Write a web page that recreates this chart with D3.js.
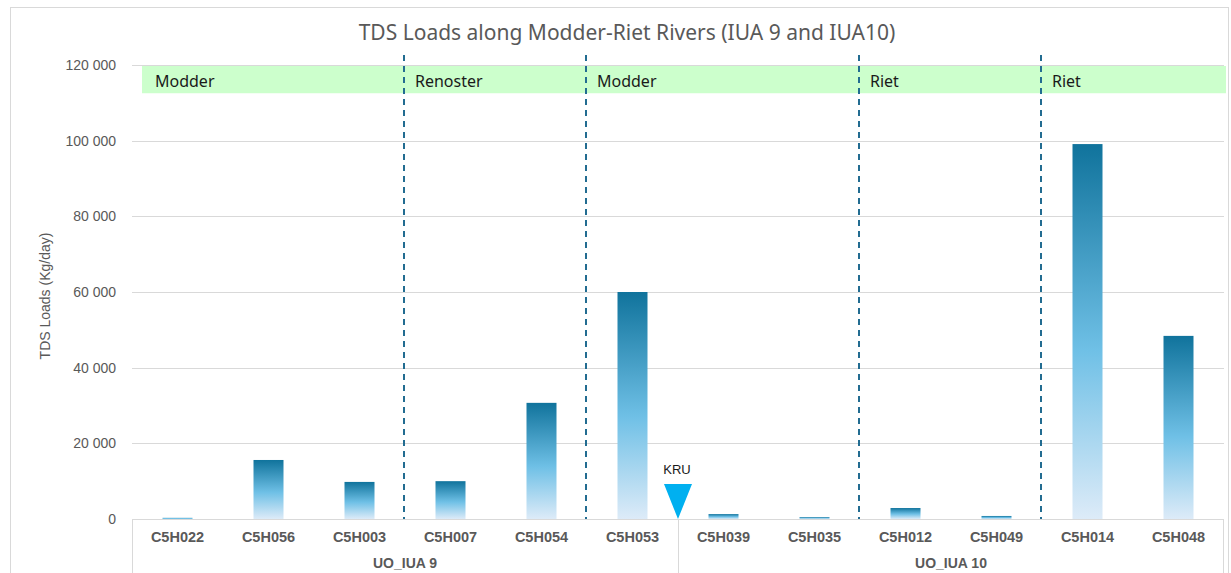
<!DOCTYPE html>
<html>
<head>
<meta charset="utf-8">
<script src="https://cdn.jsdelivr.net/npm/d3@7"></script>
<style>
  body { margin: 0; background: #fff; }
  svg { display: block; }
</style>
</head>
<body>
<svg class="chart"></svg>
<script>
// station codes along the river, grouped by IUA
let stations = ["C5H022", "C5H056", "C5H003", "C5H007", "C5H054", "C5H053",
                "C5H039", "C5H035", "C5H012", "C5H049", "C5H014", "C5H048"]
let loads = [300, 15600, 9800, 10000, 30700, 60000, 1300, 500, 2900, 800, 99100, 48400]

let groups = ["UO_IUA 9", "UO_IUA 10"]
let groupStart = ["C5H022", "C5H039"]
let groupEnd = ["C5H053", "C5H048"]

// river reaches shown in the green band
let rivers = ["Modder", "Renoster", "Modder", "Riet", "Riet"]
let riverStart = ["C5H022", "C5H007", "C5H053", "C5H012", "C5H014"]

let yTicks = [0, 20000, 40000, 60000, 80000, 100000, 120000]
let bandTop = 120000
let bandBottom = 112800

let markerLabel = "KRU"
let markerAfter = "C5H053"

let W = 1231, H = 573
let margin = { top: 65, right: 7, bottom: 54, left: 132 }
let width = W - margin.left - margin.right
let height = H - margin.top - margin.bottom

let svg = d3.select(".chart").attr("width", W).attr("height", H)

// outer chart border
svg.append("rect")
    .attr("x", 10.5).attr("y", 7.5)
    .attr("width", W - 13).attr("height", H)
    .attr("fill", "none").attr("stroke", "#d9d9d9")

svg.append("text")
    .attr("x", 627).attr("y", 40)
    .attr("text-anchor", "middle")
    .attr("font-family", "'Noto Sans', sans-serif")
    .attr("font-size", 21)
    .attr("fill", "#595959")
    .text("TDS Loads along Modder-Riet Rivers (IUA 9 and IUA10)")

let g = svg.append("g")
    .attr("transform", "translate(" + margin.left + "," + margin.top + ")")

let x = d3.scaleBand().domain(stations).range([0, width]).paddingInner(0).paddingOuter(0)
let y = d3.scaleLinear().domain([0, 120000]).range([height, 0])

// gridlines
g.selectAll(".grid")
    .data(yTicks)
  .enter().append("line")
    .attr("x1", 0).attr("x2", width)
    .attr("y1", d => Math.round(y(d)) + 0.5).attr("y2", d => Math.round(y(d)) + 0.5)
    .attr("stroke", "#d9d9d9")

// y tick labels
let yAxis = g.append("g")
    .call(d3.axisLeft(y).tickValues(yTicks).tickSize(0).tickPadding(16)
      .tickFormat(d => d3.format(",")(d).replace(/,/g, " ")))
yAxis.select(".domain").remove()
yAxis.selectAll("text")
    .attr("font-family", "'Liberation Sans', Arial, sans-serif")
    .attr("font-size", 14)
    .attr("fill", "#595959")

svg.append("text")
    .attr("transform", "translate(50," + (margin.top + height / 2 + 4) + ") rotate(-90)")
    .attr("text-anchor", "middle")
    .attr("font-family", "'Liberation Sans Narrow', 'Liberation Sans', sans-serif")
    .attr("font-size", 14)
    .attr("fill", "#595959")
    .text("TDS Loads (Kg/day)")

// green river band
g.append("rect")
    .attr("x", 10).attr("y", y(bandTop) + 1)
    .attr("width", width - 8).attr("height", y(bandBottom) - y(bandTop))
    .attr("fill", "#ccffcc")

g.selectAll(".river")
    .data(rivers)
  .enter().append("text")
    .attr("x", (d, i) => x(riverStart[i]) + (i == 0 ? 23 : 10))
    .attr("y", y((bandTop + bandBottom) / 2) + 8)
    .attr("font-family", "'Noto Sans', sans-serif")
    .attr("font-size", 16)
    .attr("fill", "#1a1a1a")
    .text(d => d)

// dashed reach dividers
g.selectAll(".divider")
    .data(riverStart.slice(1))
  .enter().append("line")
    .attr("x1", d => x(d) - 1).attr("x2", d => x(d) - 1)
    .attr("y1", -10).attr("y2", height)
    .attr("stroke", "#226c91")
    .attr("stroke-width", 2)
    .attr("stroke-dasharray", "6,5")

// bar gradient
let grad = svg.append("defs").append("linearGradient")
    .attr("id", "barGrad")
    .attr("x1", 0).attr("y1", 0).attr("x2", 0).attr("y2", 1)
grad.append("stop").attr("offset", "0%").attr("stop-color", "#10739c")
grad.append("stop").attr("offset", "55%").attr("stop-color", "#6fc0e6")
grad.append("stop").attr("offset", "100%").attr("stop-color", "#ddebf8")

let barW = 30
g.selectAll(".bar")
    .data(loads)
  .enter().append("rect")
    .attr("x", (d, i) => x(stations[i]) + x.bandwidth() / 2 - barW / 2)
    .attr("y", d => y(d))
    .attr("width", barW)
    .attr("height", d => height - y(d))
    .attr("fill", "url(#barGrad)")

// x axis line and category labels
g.append("line")
    .attr("x1", 0).attr("x2", width)
    .attr("y1", height + 0.5).attr("y2", height + 0.5)
    .attr("stroke", "#d9d9d9")

g.selectAll(".cat")
    .data(stations)
  .enter().append("text")
    .attr("x", d => x(d) + x.bandwidth() / 2)
    .attr("y", height + 23)
    .attr("text-anchor", "middle")
    .attr("font-family", "'Liberation Sans', Arial, sans-serif")
    .attr("font-weight", "bold")
    .attr("font-size", 14.5)
    .attr("fill", "#595959")
    .text(d => d)

// group separators and labels
let seps = [groupStart[0], groupStart[1]]
g.selectAll(".sep")
    .data(seps)
  .enter().append("line")
    .attr("x1", d => Math.round(x(d)) + 0.5).attr("x2", d => Math.round(x(d)) + 0.5)
    .attr("y1", height).attr("y2", H)
    .attr("stroke", "#d9d9d9")
g.append("line")
    .attr("x1", width - 0.5).attr("x2", width - 0.5)
    .attr("y1", height).attr("y2", H)
    .attr("stroke", "#d9d9d9")

g.selectAll(".grp")
    .data(groups)
  .enter().append("text")
    .attr("x", (d, i) => (x(groupStart[i]) + x(groupEnd[i]) + x.bandwidth()) / 2)
    .attr("y", height + 49)
    .attr("text-anchor", "middle")
    .attr("font-family", "'Liberation Sans', Arial, sans-serif")
    .attr("font-weight", "bold")
    .attr("font-size", 14)
    .attr("fill", "#595959")
    .text(d => d)

// KRU marker
let mx = x(markerAfter) + x.bandwidth()
g.append("path")
    .attr("d", d3.line()([[mx - 14, height - 35], [mx + 14, height - 35], [mx, height]]) + "Z")
    .attr("fill", "#00b0f0")
g.append("text")
    .attr("x", mx - 1).attr("y", height - 45)
    .attr("text-anchor", "middle")
    .attr("font-family", "'Liberation Sans', Arial, sans-serif")
    .attr("font-size", 13)
    .attr("fill", "#1a1a1a")
    .text(markerLabel)
</script>
</body>
</html>
